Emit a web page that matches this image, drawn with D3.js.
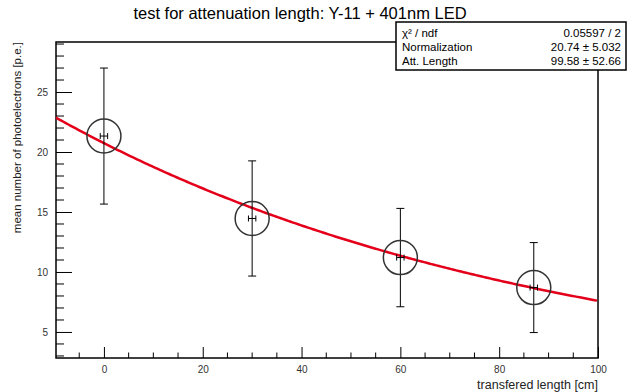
<!DOCTYPE html>
<html>
<head>
<meta charset="utf-8">
<script src="https://cdn.jsdelivr.net/npm/d3@7"></script>
<style>
body { margin: 0; background: #fff; }
text { font-family: "Liberation Sans", Arial, sans-serif; }
</style>
</head>
<body>
<svg id="chart"></svg>
<script>
// measured points (length along fibre vs mean p.e.)
const lengths = [0, 30, 60, 87];
const meanPe = [21.33, 14.46, 11.2, 8.7];
const peErr = [5.67, 4.8, 4.1, 3.75];
const lenErr = [0.75, 0.75, 0.75, 0.75];

// fit result: f(x) = norm * exp(-x / attLength)
const fitNorm = 20.74;
const fitAtt = 99.58;

const xTicks = [0, 20, 40, 60, 80, 100];
const yTicks = [5, 10, 15, 20, 25];

const statsRows = [
	['χ² / ndf', '0.05597 / 2'],
	['Normalization', '20.74 ± 5.032'],
	['Att. Length', '99.58 ± 52.66']
];

const geom = {
	width: 628,
	height: 392,
	frame: { left: 56, right: 598, top: 42, bottom: 358 }
};

const svg = d3.select('#chart')
	.attr('width', geom.width)
	.attr('height', geom.height);

const x = d3.scaleLinear()
	.domain([-9.7, 100])
	.range([geom.frame.left, geom.frame.right]);

const y = d3.scaleLinear()
	.domain([2.83, 29.17])
	.range([geom.frame.bottom, geom.frame.top]);

// frame
svg.append('rect')
	.attr('x', geom.frame.left)
	.attr('y', geom.frame.top)
	.attr('width', geom.frame.right - geom.frame.left)
	.attr('height', geom.frame.bottom - geom.frame.top)
	.attr('fill', 'none')
	.attr('stroke', '#000')
	.attr('stroke-width', 1.5);

// x axis, ROOT style ticks pointing inwards
const xMinor = d3.range(-5, 101, 5).filter(v => !xTicks.includes(v));
const xAxis = svg.append('g')
	.attr('transform', 'translate(0,' + geom.frame.bottom + ')');
xAxis.call(d3.axisBottom(x).tickValues(xTicks).tickSize(-11).tickPadding(8));
xAxis.append('g').selectAll('line')
	.data(xMinor)
	.join('line')
	.attr('x1', d => x(d)).attr('x2', d => x(d))
	.attr('y1', 0).attr('y2', -5.5)
	.attr('stroke', '#000');
xAxis.select('.domain').remove();
xAxis.selectAll('text')
	.attr('font-size', 10)
	.attr('fill', '#333');

// y axis
const yMinor = d3.range(3, 30, 1).filter(v => !yTicks.includes(v));
const yAxis = svg.append('g')
	.attr('transform', 'translate(' + geom.frame.left + ',0)');
yAxis.call(d3.axisLeft(y).tickValues(yTicks).tickSize(-16).tickPadding(8));
yAxis.append('g').selectAll('line')
	.data(yMinor)
	.join('line')
	.attr('y1', d => y(d)).attr('y2', d => y(d))
	.attr('x1', 0).attr('x2', 8)
	.attr('stroke', '#000');
yAxis.select('.domain').remove();
yAxis.selectAll('text')
	.attr('font-size', 10)
	.attr('fill', '#333');

// axis titles
svg.append('text')
	.attr('x', geom.frame.right)
	.attr('y', 389)
	.attr('text-anchor', 'end')
	.attr('font-size', 12.5)
	.attr('fill', '#222')
	.text('transfered length [cm]');

svg.append('text')
	.attr('transform', 'translate(21,' + geom.frame.top + ') rotate(-90)')
	.attr('text-anchor', 'end')
	.attr('font-size', 11.5)
	.attr('fill', '#222')
	.text('mean number of photoelectrons [p.e.]');

// title
svg.append('text')
	.attr('x', 300)
	.attr('y', 19)
	.attr('text-anchor', 'middle')
	.attr('font-size', 16.5)
	.text('test for attenuation length: Y-11 + 401nm LED');

// fit curve
const fitXs = d3.range(-9.7, 100.01, 0.5);
svg.append('path')
	.datum(fitXs)
	.attr('fill', 'none')
	.attr('stroke', '#e4001a')
	.attr('stroke-width', 2.5)
	.attr('d', d3.line()
		.x(d => x(d))
		.y(d => y(fitNorm * Math.exp(-d / fitAtt))));

// data points with error bars
const data = lengths.map((l, i) => ({
	x: l, y: meanPe[i], ey: peErr[i], ex: lenErr[i]
}));

const pts = svg.append('g').selectAll('g')
	.data(data)
	.join('g')
	.attr('stroke', '#000')
	.attr('fill', 'none');

pts.append('line')
	.attr('x1', d => x(d.x)).attr('x2', d => x(d.x))
	.attr('y1', d => y(d.y + d.ey)).attr('y2', d => y(d.y - d.ey));
pts.append('line')
	.attr('x1', d => x(d.x) - 4).attr('x2', d => x(d.x) + 4)
	.attr('y1', d => y(d.y + d.ey)).attr('y2', d => y(d.y + d.ey));
pts.append('line')
	.attr('x1', d => x(d.x) - 4).attr('x2', d => x(d.x) + 4)
	.attr('y1', d => y(d.y - d.ey)).attr('y2', d => y(d.y - d.ey));
pts.append('line')
	.attr('x1', d => x(d.x - d.ex)).attr('x2', d => x(d.x + d.ex))
	.attr('y1', d => y(d.y)).attr('y2', d => y(d.y));
pts.append('line')
	.attr('x1', d => x(d.x - d.ex)).attr('x2', d => x(d.x - d.ex))
	.attr('y1', d => y(d.y) - 3).attr('y2', d => y(d.y) + 3);
pts.append('line')
	.attr('x1', d => x(d.x + d.ex)).attr('x2', d => x(d.x + d.ex))
	.attr('y1', d => y(d.y) - 3).attr('y2', d => y(d.y) + 3);
pts.append('circle')
	.attr('cx', d => x(d.x))
	.attr('cy', d => y(d.y))
	.attr('r', 17)
	.attr('stroke', '#333')
	.attr('stroke-width', 1.5);

// stats box
const box = { x: 396, y: 22, w: 230, h: 48 };
svg.append('rect')
	.attr('x', box.x)
	.attr('y', box.y)
	.attr('width', box.w)
	.attr('height', box.h)
	.attr('fill', '#fff')
	.attr('stroke', '#000')
	.attr('stroke-width', 1.5);

const rows = svg.append('g').selectAll('g')
	.data(statsRows)
	.join('g')
	.attr('transform', (d, i) => 'translate(0,' + (box.y + 14.5 + i * 14) + ')');
rows.append('text')
	.attr('x', box.x + 6)
	.attr('font-size', 11.5)
	.text(d => d[0]);
rows.append('text')
	.attr('x', box.x + box.w - 5)
	.attr('text-anchor', 'end')
	.attr('font-size', 11.5)
	.text(d => d[1]);
</script>
</body>
</html>
